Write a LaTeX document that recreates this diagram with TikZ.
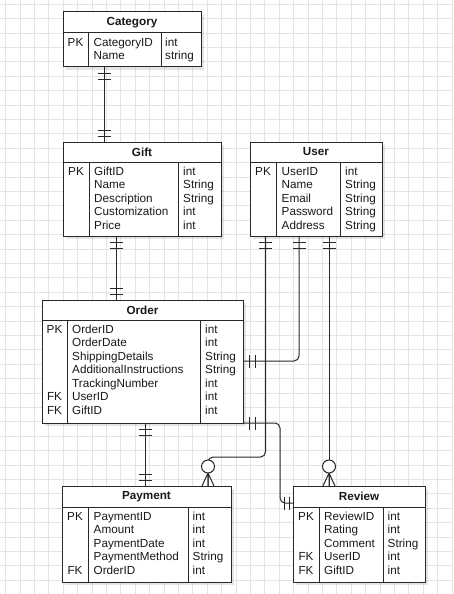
\documentclass[tikz,border=0pt]{standalone}
\usepackage{fontspec}
\setmainfont{Liberation Sans}
\usetikzlibrary{shadows}

\definecolor{ln}{RGB}{40,40,40}
\definecolor{gridc}{RGB}{228,228,228}
\definecolor{txt}{RGB}{25,25,25}

\newcommand\rowfont{\fontsize{11.7}{13.5}\selectfont}
\newcommand\hdrfont{\fontsize{11.7}{13.5}\selectfont\bfseries}

% two bars (mandatory one) next to an attachment point
\newcommand\barsdown[1]{\draw[conn] ([shift={(-6.5,6)}]#1) -- ++(13,0) ([shift={(-6.5,12)}]#1) -- ++(13,0);}
\newcommand\barsup[1]{\draw[conn] ([shift={(-6.5,-6)}]#1) -- ++(13,0) ([shift={(-6.5,-12)}]#1) -- ++(13,0);}
\newcommand\barsright[1]{\draw[conn] ([shift={(6,-6.5)}]#1) -- ++(0,13) ([shift={(12,-6.5)}]#1) -- ++(0,13);}
\newcommand\barsleft[1]{\draw[conn] ([shift={(-4,-6.5)}]#1) -- ++(0,13) ([shift={(-9,-6.5)}]#1) -- ++(0,13);}
% zero or many, connector arriving from above
\newcommand\zmanyup[1]{%
  \draw[conn] ([shift={(0,-13)}]#1) -- ([shift={(-6,0)}]#1)
              ([shift={(0,-13)}]#1) -- (#1)
              ([shift={(0,-13)}]#1) -- ([shift={(6,0)}]#1);
  \draw[conn,fill=white] ([shift={(0,-19.5)}]#1) circle[radius=6.5pt];}

\tikzset{
  ent/.style={draw=ln, fill=white, line width=1pt, inner sep=0pt, outer sep=0pt,
    anchor=north west, general shadow={fill=black, opacity=0.1, shadow xshift=3pt, shadow yshift=-3pt}},
  hdr/.style={ent, font=\hdrfont, text=txt},
  col/.style={anchor=north west, inner sep=0pt, font=\rowfont, text=txt},
  keycol/.style={anchor=north, inner sep=0pt, font=\rowfont, text=txt},
  sep/.style={draw=ln, line width=1pt},
  conn/.style={draw=ln, line width=1pt},
  gridline/.style={draw=gridc, line width=0.9pt}
}

\begin{document}
\begin{tikzpicture}[x=1pt, y=-1pt]
\useasboundingbox (0,0) rectangle (453,594);
\fill[white] (0,0) rectangle (453,594);

% background grid
\foreach \i in {0,...,31} \draw[gridline] (5.6+14.4*\i,0) -- (5.6+14.4*\i,594);
\foreach \j in {0,...,41} \draw[gridline] (0,4.2+14.4*\j) -- (453,4.2+14.4*\j);

% ---------- Category ----------
\node[hdr, minimum width=138pt, minimum height=21pt] (cat) at (63,12) {Category};
\node[ent, minimum width=138pt, minimum height=34pt] (catb) at (63,33) {};
\draw[sep] ([xshift=25pt]catb.north west) -- ([xshift=25pt]catb.south west);
\draw[sep] ([xshift=98pt]catb.north west) -- ([xshift=98pt]catb.south west);
\node[keycol] (catk) at (75.5,36.75) {\begin{tabular}{@{}c@{}}PK\\ \end{tabular}};
\node[col] (catn) at (93.5,36.75) {\begin{tabular}{@{}l@{}}CategoryID\\ Name\end{tabular}};
\node[col] (catt) at (165,36.75) {\begin{tabular}{@{}l@{}}int\\ string\end{tabular}};

% ---------- Gift ----------
\node[hdr, minimum width=158pt, minimum height=20pt] (gift) at (63,142) {Gift};
\node[ent, minimum width=158pt, minimum height=74pt] (giftb) at (63,162) {};
\draw[sep] ([xshift=26pt]giftb.north west) -- ([xshift=26pt]giftb.south west);
\draw[sep] ([xshift=115pt]giftb.north west) -- ([xshift=115pt]giftb.south west);
\node[keycol] (giftk) at (76,165.75) {\begin{tabular}{@{}c@{}}PK\end{tabular}};
\node[col] (giftn) at (94,165.75) {\begin{tabular}{@{}l@{}}GiftID\\ Name\\ Description\\ Customization\\ Price\end{tabular}};
\node[col] (giftt) at (183,165.75) {\begin{tabular}{@{}l@{}}int\\ String\\ String\\ int\\ int\end{tabular}};

% ---------- User ----------
\node[hdr, minimum width=132pt, minimum height=20pt] (user) at (250,142) {User};
\node[ent, minimum width=132pt, minimum height=74pt] (userb) at (250,162) {};
\draw[sep] ([xshift=26pt]userb.north west) -- ([xshift=26pt]userb.south west);
\draw[sep] ([xshift=90pt]userb.north west) -- ([xshift=90pt]userb.south west);
\node[keycol] (userk) at (263,165.75) {\begin{tabular}{@{}c@{}}PK\end{tabular}};
\node[col] (usern) at (281.5,165.75) {\begin{tabular}{@{}l@{}}UserID\\ Name\\ Email\\ Password\\ Address\end{tabular}};
\node[col] (usert) at (345,165.75) {\begin{tabular}{@{}l@{}}int\\ String\\ String\\ String\\ String\end{tabular}};

% ---------- Order ----------
\node[hdr, minimum width=201pt, minimum height=20pt] (ord) at (42,300) {Order};
\node[ent, minimum width=201pt, minimum height=103pt] (ordb) at (42,320) {};
\draw[sep] ([xshift=25pt]ordb.north west) -- ([xshift=25pt]ordb.south west);
\draw[sep] ([xshift=158pt]ordb.north west) -- ([xshift=158pt]ordb.south west);
\node[keycol] (ordk) at (54.5,323.75) {\begin{tabular}{@{}c@{}}PK\\ \\ \\ \\ \\ FK\\ FK\end{tabular}};
\node[col] (ordn) at (72,323.75) {\begin{tabular}{@{}l@{}}OrderID\\ OrderDate\\ ShippingDetails\\ AdditionalInstructions\\ TrackingNumber\\ UserID\\ GiftID\end{tabular}};
\node[col] (ordt) at (205,323.75) {\begin{tabular}{@{}l@{}}int\\ int\\ String\\ String\\ int\\ int\\ int\end{tabular}};

% ---------- Payment ----------
\node[hdr, minimum width=169pt, minimum height=21pt] (pay) at (62,486) {Payment};
\node[ent, minimum width=169pt, minimum height=75pt] (payb) at (62,507) {};
\draw[sep] ([xshift=26pt]payb.north west) -- ([xshift=26pt]payb.south west);
\draw[sep] ([xshift=126pt]payb.north west) -- ([xshift=126pt]payb.south west);
\node[keycol] (payk) at (75,510.75) {\begin{tabular}{@{}c@{}}PK\\ \\ \\ \\ FK\end{tabular}};
\node[col] (payn) at (93.5,510.75) {\begin{tabular}{@{}l@{}}PaymentID\\ Amount\\ PaymentDate\\ PaymentMethod\\ OrderID\end{tabular}};
\node[col] (payt) at (192.5,510.75) {\begin{tabular}{@{}l@{}}int\\ int\\ int\\ String\\ int\end{tabular}};

% ---------- Review ----------
\node[hdr, minimum width=132pt, minimum height=21pt] (rev) at (293,486) {Review};
\node[ent, minimum width=132pt, minimum height=75pt] (revb) at (293,507) {};
\draw[sep] ([xshift=26pt]revb.north west) -- ([xshift=26pt]revb.south west);
\draw[sep] ([xshift=90pt]revb.north west) -- ([xshift=90pt]revb.south west);
\node[keycol] (revk) at (306,510.75) {\begin{tabular}{@{}c@{}}PK\\ \\ \\ FK\\ FK\end{tabular}};
\node[col] (revn) at (324,510.75) {\begin{tabular}{@{}l@{}}ReviewID\\ Rating\\ Comment\\ UserID\\ GiftID\end{tabular}};
\node[col] (revt) at (387.5,510.75) {\begin{tabular}{@{}l@{}}int\\ int\\ String\\ int\\ int\end{tabular}};

% ---------- relationships ----------
% Category -- Gift
\draw[conn] ([xshift=41pt]catb.south west) coordinate (cg1) -- ([xshift=41pt]gift.north west) coordinate (cg2);
\barsdown{cg1}
\barsup{cg2}

% Gift -- Order
\draw[conn] ([xshift=53pt]giftb.south west) coordinate (go1) -- ([xshift=74pt]ord.north west) coordinate (go2);
\barsdown{go1}
\barsup{go2}

% User -- Order
\draw[conn, rounded corners=5pt] ([xshift=49pt]userb.south west) coordinate (uo1) |- ([yshift=-41pt]ordb.north east) coordinate (uo2);
\barsdown{uo1}
\barsright{uo2}

% User -- Payment
\draw[conn, rounded corners=5pt] ([xshift=15.5pt]userb.south west) coordinate (up1) |- ([yshift=29pt,xshift=146pt]pay.north west) -- ([xshift=146pt]pay.north west) coordinate (up2);
\barsdown{up1}
\zmanyup{up2}

% User -- Review
\draw[conn] ([xshift=79pt]userb.south west) coordinate (ur1) -- ([xshift=36pt]rev.north west) coordinate (ur2);
\barsdown{ur1}
\zmanyup{ur2}

% Order -- Payment
\draw[conn] ([xshift=103pt]ordb.south west) coordinate (op1) -- ([xshift=83pt]pay.north west) coordinate (op2);
\barsdown{op1}
\barsup{op2}

% Order -- Review
\draw[conn, rounded corners=5pt] (ordb.south east) coordinate (or1) -- ++(37,0) |- ([yshift=-17pt]rev.north west) coordinate (or2);
\barsright{or1}
\barsleft{or2}

\end{tikzpicture}
\end{document}
